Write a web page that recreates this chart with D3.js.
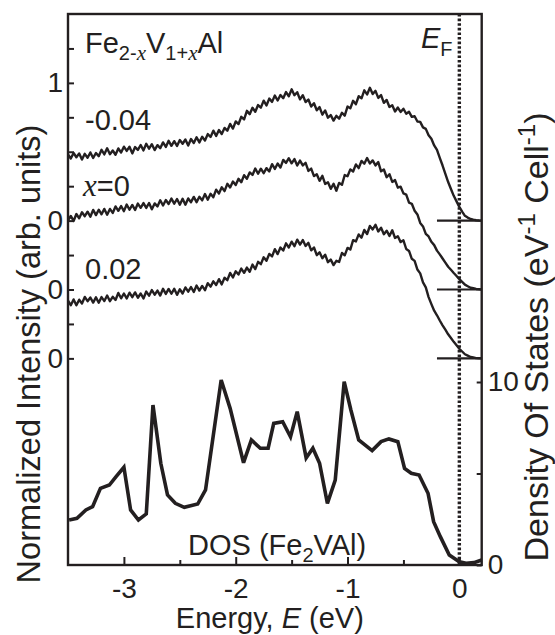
<!DOCTYPE html>
<html><head><meta charset="utf-8">
<script src="https://cdn.jsdelivr.net/npm/d3@7"></script>
<style>
body{margin:0;background:#fff}
text{font-family:"Liberation Sans",Arial,Helvetica,sans-serif;fill:#231f20}
</style>
</head><body>
<svg id="c" width="555" height="635"></svg>
<script>
// ---------- data ----------
const energy = [
  -3.500,-3.475,-3.450,-3.425,-3.400,-3.375,-3.350,-3.325,-3.300,-3.275,-3.250,-3.225,-3.200,-3.175,-3.150,-3.125,-3.100,-3.075,-3.050,-3.025,
  -3.000,-2.975,-2.950,-2.925,-2.900,-2.875,-2.850,-2.825,-2.800,-2.775,-2.750,-2.725,-2.700,-2.675,-2.650,-2.625,-2.600,-2.575,-2.550,-2.525,
  -2.500,-2.475,-2.450,-2.425,-2.400,-2.375,-2.350,-2.325,-2.300,-2.275,-2.250,-2.225,-2.200,-2.175,-2.150,-2.125,-2.100,-2.075,-2.050,-2.025,
  -2.000,-1.975,-1.950,-1.925,-1.900,-1.875,-1.850,-1.825,-1.800,-1.775,-1.750,-1.725,-1.700,-1.675,-1.650,-1.625,-1.600,-1.575,-1.550,-1.525,
  -1.500,-1.475,-1.450,-1.425,-1.400,-1.375,-1.350,-1.325,-1.300,-1.275,-1.250,-1.225,-1.200,-1.175,-1.150,-1.125,-1.100,-1.075,-1.050,-1.025,
  -1.000,-0.975,-0.950,-0.925,-0.900,-0.875,-0.850,-0.825,-0.800,-0.775,-0.750,-0.725,-0.700,-0.675,-0.650,-0.625,-0.600,-0.575,-0.550,-0.525,
  -0.500,-0.475,-0.450,-0.425,-0.400,-0.375,-0.350,-0.325,-0.300,-0.275,-0.250,-0.225,-0.200,-0.175,-0.150,-0.125,-0.100,-0.075,-0.050,-0.025,
  0.000,0.025,0.050,0.075,0.100,0.125,0.150,0.175,0.200];
const specM004 = [
  .48,.451,.491,.46,.488,.443,.485,.456,.495,.455,.491,.468,.514,.481,.525,.482,.509,.478,.524,.495,
  .537,.506,.536,.488,.534,.513,.549,.51,.558,.522,.555,.512,.548,.526,.568,.535,.579,.543,.577,.542,
  .585,.558,.589,.545,.592,.564,.605,.568,.609,.581,.628,.607,.653,.615,.658,.629,.673,.653,.702,.668,
  .72,.701,.754,.735,.797,.773,.819,.79,.839,.82,.871,.836,.886,.862,.908,.872,.912,.889,.933,.903,
  .953,.91,.932,.88,.91,.861,.879,.828,.852,.801,.824,.769,.80,.747,.766,.726,.761,.74,.783,.762,
  .828,.815,.87,.845,.903,.888,.946,.916,.964,.919,.942,.891,.911,.855,.876,.825,.838,.792,.821,.789,
  .812,.776,.79,.753,.758,.72,.717,.677,.666,.62,.594,.546,.513,.455,.40,.34,.28,.23,.18,.14,
  .10,.065,.035,.022,.012,.007,.003,.001,0];
const specX0 = [
  .502,.534,.497,.548,.517,.561,.532,.565,.528,.578,.54,.579,.546,.585,.543,.585,.556,.603,.571,.606,
  .569,.617,.579,.614,.577,.624,.593,.627,.592,.628,.582,.625,.603,.648,.61,.65,.621,.66,.623,.657,
  .616,.659,.615,.661,.634,.672,.634,.673,.647,.693,.652,.695,.67,.725,.697,.742,.714,.767,.741,.784,
  .758,.804,.779,.83,.804,.85,.832,.878,.84,.877,.844,.881,.857,.91,.875,.915,.885,.941,.919,.953,
  .916,.947,.90,.936,.901,.92,.861,.878,.823,.837,.789,.825,.766,.778,.731,.768,.717,.774,.76,.831,
  .822,.872,.857,.908,.881,.933,.913,.954,.915,.937,.901,.925,.858,.871,.815,.837,.781,.794,.739,.746,
  .698,.689,.63,.622,.572,.545,.483,.458,.404,.385,.346,.322,.282,.255,.225,.195,.165,.143,.12,.098,
  .075,.055,.035,.024,.013,.009,.004,.002,0];
const spec002 = [
  .42,.386,.428,.385,.426,.398,.446,.415,.442,.405,.443,.404,.445,.416,.456,.415,.447,.424,.475,.436,
  .471,.435,.477,.444,.479,.44,.471,.435,.485,.455,.496,.462,.492,.456,.505,.468,.504,.469,.505,.461,
  .502,.471,.515,.484,.518,.482,.529,.492,.526,.495,.546,.521,.559,.532,.575,.537,.585,.568,.62,.588,
  .632,.609,.652,.621,.659,.629,.681,.648,.701,.684,.734,.709,.758,.74,.793,.757,.805,.783,.835,.805,
  .847,.814,.862,.826,.859,.816,.839,.784,.805,.749,.77,.727,.753,.698,.717,.677,.708,.70,.765,.748,
  .802,.79,.858,.849,.90,.876,.932,.903,.961,.936,.97,.921,.948,.901,.927,.889,.93,.874,.886,.844,
  .857,.794,.78,.723,.708,.645,.617,.552,.516,.445,.394,.346,.313,.275,.24,.208,.175,.148,.12,.095,
  .07,.05,.03,.02,.01,.006,.002,.001,0];
const specOffsets = [1.0, 0.5, 0.0];
const dosE = [-3.49,-3.42,-3.34,-3.28,-3.21,-3.13,-3.07,-3.00,-2.94,-2.87,-2.80,-2.74,-2.67,-2.61,-2.54,-2.46,-2.34,-2.27,-2.13,-2.05,-1.93,-1.86,-1.78,-1.71,-1.66,-1.58,-1.51,-1.45,-1.37,-1.31,-1.25,-1.18,-1.11,-1.03,-0.97,-0.90,-0.78,-0.70,-0.63,-0.55,-0.49,-0.43,-0.36,-0.28,-0.23,-0.17,-0.09,0.00,0.06,0.13,0.20];
const dosV = [2.46,2.55,3.01,3.19,4.19,4.37,4.83,5.34,3.01,2.46,2.79,8.74,5.56,3.83,3.37,3.15,3.33,4.10,10.11,8.56,5.59,6.83,6.38,6.38,7.74,7.83,7.01,8.38,5.85,6.38,5.56,3.37,4.64,10.02,8.47,6.83,6.25,6.74,6.89,6.74,5.28,5.01,4.92,3.92,2.37,1.55,0.55,0.18,0.09,0.13,0.27];
const xMajorTicks = [-3,-2,-1,0];
const xMinorTicks = [-2.5,-1.5,-0.5];
const leftTicks = [0,0.25,0.5,0.75,1,1.25,1.5,1.75,2,2.25];
const leftTickLabels = {0:"0",0.5:"0",1:"0",2:"1"};
const rightTicks = [0,5,10];
const rightTickLabels = {0:"0",10:"10"};

// ---------- layout ----------
const svg = d3.select("#c");
const L = 68, R = 481.7, T = 14, B = 565;
const x = d3.scaleLinear().domain([-3.5,0.2]).range([L,R]);
const yI = d3.scaleLinear().domain([-1.5,2.5]).range([B,T]);
const yD = d3.scaleLinear().domain([0,10]).range([B,382]);
const ink = "#231f20";
const FS = 29;

// axes
const gx = svg.append("g").attr("transform",`translate(0,${B})`)
  .call(d3.axisBottom(x).tickValues(xMajorTicks).tickSizeInner(-8).tickSizeOuter(0).tickPadding(13)
    .tickFormat(d => d === 0 ? "0" : String(d)));
const gx2 = svg.append("g").attr("transform",`translate(0,${B})`)
  .call(d3.axisBottom(x).tickValues(xMinorTicks).tickSizeInner(-5).tickSizeOuter(0).tickFormat(""));
const gl = svg.append("g").attr("transform",`translate(${L},0)`)
  .call(d3.axisLeft(yI).tickValues(leftTicks).tickSizeInner(-6).tickSizeOuter(0).tickPadding(5)
    .tickFormat(d => leftTickLabels[d] || ""));
const gr = svg.append("g").attr("transform",`translate(${R},0)`)
  .call(d3.axisRight(yD).tickValues(rightTicks).tickSizeInner(-5).tickSizeOuter(0).tickPadding(6)
    .tickFormat(d => rightTickLabels[d] || ""));
[gx,gx2,gl,gr].forEach(g => {
  g.select(".domain").remove();
  g.selectAll(".tick line").attr("stroke",ink).attr("stroke-width",2);
  g.selectAll(".tick text").attr("font-size",28).attr("fill",ink)
    .attr("font-family",'"Liberation Sans",Arial,sans-serif');
});

// frame
svg.append("rect").attr("x",L).attr("y",T).attr("width",R-L).attr("height",B-T)
  .attr("fill","none").attr("stroke",ink).attr("stroke-width",2.4);

// dotted E_F line
svg.append("line").attr("x1",x(0)).attr("x2",x(0)).attr("y1",T).attr("y2",B)
  .attr("stroke",ink).attr("stroke-width",3.4).attr("stroke-dasharray","2.6,2");

// zero baselines of spectra
svg.selectAll("line.base").data(specOffsets).join("line").attr("class","base")
  .attr("x1",x(-0.2)).attr("x2",R).attr("y1",d=>yI(d)).attr("y2",d=>yI(d))
  .attr("stroke",ink).attr("stroke-width",2.2);

// spectra
const specs = [specM004, specX0, spec002];
specs.forEach((s,i) => {
  const line = d3.line().x((d,j)=>x(energy[j])).y(d=>yI(d+specOffsets[i]));
  svg.append("path").datum(s).attr("d",line).attr("fill","none")
    .attr("stroke",ink).attr("stroke-width",2.4).attr("stroke-linejoin","round");
});

// DOS
const dline = d3.line().x((d,j)=>x(dosE[j])).y(d=>yD(d));
svg.append("path").datum(dosV).attr("d",dline).attr("fill","none")
  .attr("stroke",ink).attr("stroke-width",3.6).attr("stroke-linejoin","miter").attr("stroke-miterlimit",3);

// labels
const serif = '"Liberation Serif","Times New Roman",serif';
let t = svg.append("text").attr("x",85).attr("y",53).attr("font-size",FS);
t.append("tspan").text("Fe");
t.append("tspan").attr("font-size",20).attr("dy",7).text("2-");
t.append("tspan").attr("font-size",21).attr("font-family",serif).attr("font-style","italic").text("x");
t.append("tspan").attr("dy",-7).text("V");
t.append("tspan").attr("font-size",20).attr("dy",7).text("1+");
t.append("tspan").attr("font-size",21).attr("font-family",serif).attr("font-style","italic").text("x");
t.append("tspan").attr("dy",-7).text("Al");

svg.append("text").attr("x",85).attr("y",130).attr("font-size",FS).text("-0.04");
t = svg.append("text").attr("x",83).attr("y",196).attr("font-size",FS);
t.append("tspan").attr("font-family",serif).attr("font-style","italic").attr("font-size",31).text("x");
t.append("tspan").text("=0");
svg.append("text").attr("x",85).attr("y",279).attr("font-size",FS).text("0.02");

t = svg.append("text").attr("x",421).attr("y",48).attr("font-size",FS);
t.append("tspan").attr("font-style","italic").text("E");
t.append("tspan").attr("font-size",20).attr("dy",8).text("F");

t = svg.append("text").attr("x",188).attr("y",555).attr("font-size",FS);
t.append("tspan").text("DOS (Fe");
t.append("tspan").attr("font-size",20).attr("dy",7).text("2");
t.append("tspan").attr("dy",-7).text("VAl)");

// axis titles
t = svg.append("text").attr("x",(L+R)/2 - 5).attr("y",628).attr("font-size",FS).attr("text-anchor","middle");
t.append("tspan").text("Energy, ");
t.append("tspan").attr("font-style","italic").text("E");
t.append("tspan").text(" (eV)");

svg.append("text").attr("transform","translate(39.5,354) rotate(-90)").attr("font-size",32.5)
  .attr("text-anchor","middle").text("Normalized Intensity (arb. units)");

t = svg.append("text").attr("transform","translate(548,337) rotate(-90)").attr("font-size",34)
  .attr("text-anchor","middle");
t.append("tspan").text("Density Of States (eV");
t.append("tspan").attr("font-size",24).attr("dy",-13).text("-1");
t.append("tspan").attr("dy",13).text(" Cell");
t.append("tspan").attr("font-size",24).attr("dy",-13).text("-1");
t.append("tspan").attr("dy",13).text(")");
</script>
</body></html>
